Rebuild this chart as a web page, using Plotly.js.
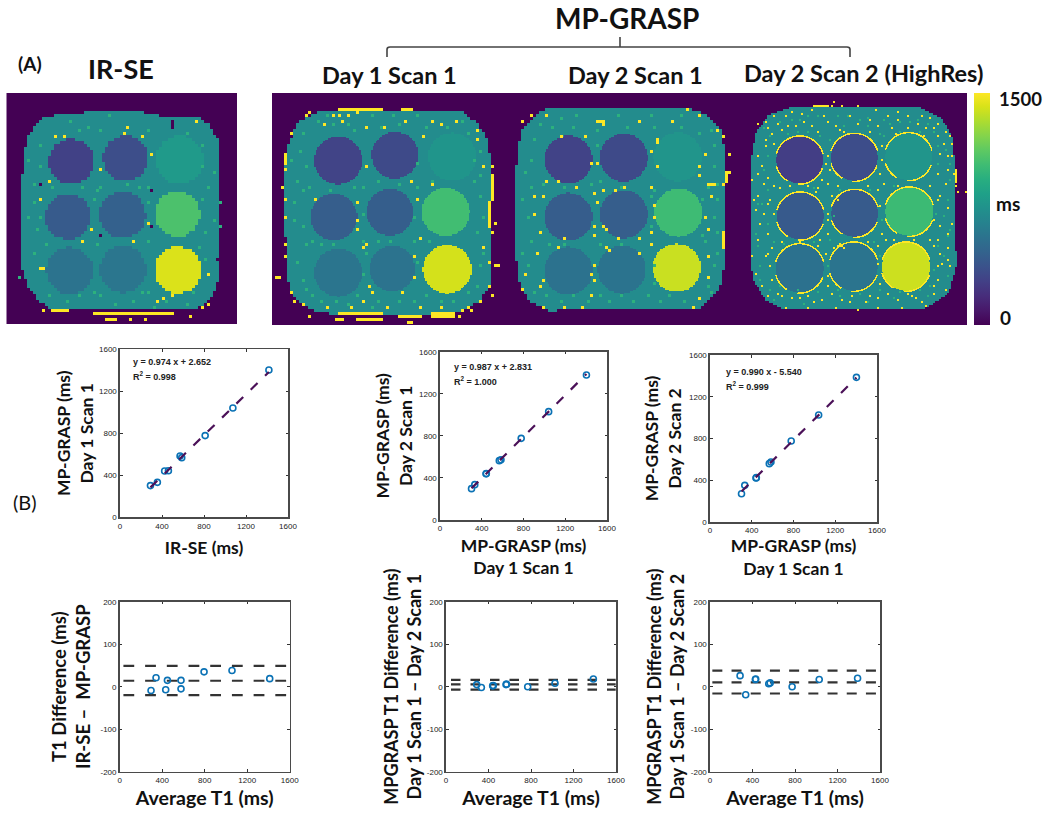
<!DOCTYPE html>
<html><head><meta charset="utf-8">
<script src="https://cdn.plot.ly/plotly-3.0.1.min.js"></script>
<style>html,body{margin:0;padding:0;background:#fff}#g{width:1050px;height:815px}</style></head>
<body><div id="g"></div>
<script>
// ---------- regression plots: values (ms)
const day1Values = [302,333,441,444,568,584,778,1041,1403];
const irseValues = [290,356,425,461,588,572,811,1075,1418];
const day2Scan1Values = [298,336,440,441,564,573,776,1030,1378];
const day2Scan2Values = [271,351,422,425,559,575,776,1025,1386];
const fit1X=[290,1418], fit1Y=[285,1384];
const fit2X=[302,1403], fit2Y=[301,1388];
const fit3X=[302,1403], fit3Y=[293,1383];
const scatterTicks=[0,400,800,1200,1600];
const diffTicks=[-200,-100,0,100,200];
// ---------- Bland-Altman values
const ba1Avg=[295,342,433,449,577,577,794,1057,1412], ba1Diff=[-9,21,-7,15,15,-5,35,38,19];
const ba2Avg=[289,333,439,445,565,570,769,1026,1387], ba2Diff=[5,-2,2,3,5,6,0,8,18];
const ba3Avg=[283,336,427,430,553,566,773,1028,1389], ba3Diff=[26,-19,17,18,7,9,0,17,20];
const ba1Limits=[49,14,-20], ba2Limits=[16,5.5,-7], ba3Limits=[38,10,-16];
const ba1Span=[35,1572], ba2Span=[47,1597], ba3Span=[22,1562];
// ---------- T1 maps: vial T1 values (ms)
const t1Irse=[290,356,811,425,461,1075,572,588,1418];
const t1Day1=[302,333,778,441,444,1041,584,568,1403];
const t1Day2a=[298,336,776,440,441,1030,564,573,1378];
const t1Day2b=[271,351,776,422,425,1025,559,575,1386];
const backgroundT1=720, speckleHigh=1500, speckleMid=960;
// vial centres + radius, phantom outlines and artefact positions, in image units
const vialsIrse=[[215,485,68],[378,475,68],[540,480,72],[205,650,68],[368,645,70],[533,642,68],[210,812,70],[370,808,70],[535,810,70]];
const vialsDay1=[[1013,480,72],[1183,465,70],[1355,470,72],[1000,650,70],[1168,636,70],[1335,635,72],[1013,817,72],[1175,805,68],[1340,807,73]];
const vialsDay2a=[[1705,478,72],[1871,472,72],[2033,470,73],[1705,650,72],[1871,642,72],[2035,637,72],[1705,812,72],[1865,808,72],[2030,803,72]];
const vialsDay2b=[[2398,480,70],[2562,472,70],[2725,470,70],[2400,648,70],[2563,640,70],[2727,635,72],[2398,805,72],[2560,800,72],[2717,800,72]];
const outlineIrse=[[165,345],[280,335],[430,335],[440,345],[600,350],[630,375],[655,420],[660,480],[662,800],[650,870],[620,910],[580,930],[160,930],[120,905],[85,860],[65,800],[65,560],[72,480],[80,420],[110,370],[130,355]];
const outlineDay1=[[970,330],[1380,330],[1430,370],[1465,420],[1470,490],[1475,720],[1470,850],[1440,900],[1400,930],[1340,945],[1010,945],[930,930],[880,890],[860,830],[855,700],[855,500],[865,430],[890,370],[930,345]];
const outlineDay2a=[[1640,322],[2055,322],[2120,345],[2160,385],[2172,440],[2175,780],[2160,860],[2100,925],[1640,932],[1590,905],[1560,860],[1548,780],[1548,500],[1560,400],[1590,360]];
const outlineDay2b=[[2375,320],[2755,320],[2825,355],[2860,420],[2868,800],[2845,880],[2775,925],[2355,930],[2295,900],[2260,840],[2250,780],[2250,500],[2265,400],[2305,345]];
const hotIrse=[[165,410],[190,413],[370,398],[430,405],[380,383],[453,462],[145,540],[300,508],[120,600],[275,685],[252,722],[400,722],[450,670],[122,808],[133,808],[515,888],[490,895],[475,902],[622,825],[590,368],[625,910],[610,918],[130,928],[350,957],[390,957],[437,957],[570,947]];
const midIrse=[[215,365],[270,380],[240,395],[300,390],[450,390],[560,400],[610,440],[120,500],[100,550],[450,560],[630,560],[640,660],[110,690],[100,760],[250,560],[300,560],[450,720],[620,700],[290,730],[430,880],[300,890],[150,890],[620,780],[90,650],[60,830],[610,500],[280,880],[200,905],[400,905],[500,905],[580,880],[120,440],[420,560],[330,345],[665,605],[665,680],[160,560],[380,555],[290,570],[450,610],[280,600],[120,650],[450,880],[610,600],[600,740],[640,520],[90,480],[105,610],[140,730],[240,890],[350,915],[460,925],[560,915]];
const darkIrse=[[515,360],[520,370],[520,380],[480,348],[122,553],[453,568],[305,708],[455,675],[650,775]];
const barsIrse=[[160,932,200,932],[280,940,515,940],[320,957,335,957]];
const hotDay1=[[930,340],[915,350],[870,400],[855,470],[855,510],[850,560],[852,600],[858,650],[855,730],[855,770],[830,830],[840,830],[870,880],[885,905],[905,915],[925,945],[1015,350],[1045,345],[1070,340],[1100,385],[1025,365],[975,370],[1155,380],[1215,365],[1295,360],[1320,370],[1365,360],[1265,405],[1230,540],[1295,555],[1100,495],[1075,605],[1075,660],[1075,690],[1085,740],[1095,735],[1260,715],[1255,600],[1245,770],[1245,830],[1105,858],[1120,875],[1205,875],[945,595],[1450,495],[1478,495],[1483,670],[1478,700],[1445,740],[1470,790],[1485,800],[1497,800],[1465,855],[1440,905],[1478,885],[1535,545],[1400,925],[1415,935],[1375,945],[1385,935],[1000,345],[1090,900],[980,920],[1050,925],[1160,925],[1260,925],[1320,925],[1430,415],[1430,395]];
const midDay1=[[985,350],[1040,375],[1120,350],[1180,345],[1250,345],[1340,385],[1400,400],[1440,450],[905,400],[900,450],[920,500],[890,540],[910,570],[880,610],[905,680],[920,730],[890,790],[920,870],[960,900],[1010,900],[1070,890],[1130,900],[1200,900],[1280,890],[1360,900],[1430,860],[1440,800],[1430,700],[1450,650],[1440,590],[1420,540],[1250,490],[1090,560],[1130,545],[1200,550],[1250,560],[1300,540],[1090,720],[1130,720],[1170,725],[1240,725],[1290,720],[1000,735],[960,735],[940,720],[1100,760],[1090,820],[1250,790],[950,360],[1000,375],[1060,395],[1140,385],[1200,375],[1280,385],[1390,360],[1420,480],[1440,530],[875,480],[885,660],[905,840],[940,890],[1040,915],[1120,925],[1240,905],[1320,900],[1400,880],[1450,760],[1240,650],[1085,640],[930,560],[990,570],[1060,560]];
const barsDay1=[[1020,327,1140,327],[1210,327,1230,327],[1475,530,1475,600],[1470,610,1470,680],[855,465,855,490],[1020,940,1140,940],[1200,948,1260,948],[1295,952,1355,952],[1005,955,1030,955],[1075,955,1140,955],[1220,965,1235,965],[1300,940,1355,940]];
const hotDay2a=[[1595,345],[1565,365],[1635,345],[1790,360],[1810,370],[1920,365],[2015,365],[2065,330],[2095,345],[2155,395],[2165,410],[2185,465],[2175,520],[2180,540],[2165,555],[2135,555],[1775,490],[1795,490],[1755,405],[1685,410],[1670,548],[1640,548],[1950,450],[1970,430],[1975,420],[2100,500],[2095,530],[2115,460],[1955,560],[1875,565],[1845,570],[1805,575],[1785,580],[1790,610],[1785,675],[1805,680],[1815,690],[1855,715],[1915,715],[1950,700],[1960,620],[1960,650],[1920,760],[1955,730],[1780,710],[1695,715],[1675,740],[1815,740],[1825,750],[1770,820],[1785,800],[1780,840],[1775,885],[1620,860],[1625,840],[1575,825],[2125,770],[2170,720],[2165,740],[2115,650],[2095,895],[1745,920],[1695,925],[1625,925],[1570,870],[2125,830],[2135,590],[1725,565],[1605,590],[1605,640],[1625,590],[1620,700],[1615,760],[1970,500],[2125,690],[2185,515],[2075,925]];
const midDay2a=[[1620,370],[1680,355],[1730,345],[1850,345],[1950,345],[2040,350],[2130,395],[2140,440],[2145,500],[2150,600],[2145,650],[2150,700],[2140,800],[2120,860],[2050,900],[1980,905],[1900,900],[1830,905],[1760,900],[1680,900],[1600,880],[1580,800],[1590,720],[1580,650],[1590,560],[1590,480],[1600,420],[1790,440],[1800,540],[1780,580],[1860,560],[1960,570],[1800,730],[1860,730],[1950,735],[1690,730],[1650,730],[1960,800],[1960,850],[2110,600],[2110,710],[1660,385],[1720,380],[1790,395],[1880,385],[1960,385],[2040,385],[2100,400],[2125,560],[2150,550],[2155,760],[2130,880],[2010,885],[1940,885],[1860,885],[1800,885],[1720,885],[1640,890],[1570,760],[1570,600],[1575,520],[1630,555],[1690,560],[1770,555],[1950,590],[1950,680],[2115,720]];
const barsDay2a=[[2175,515,2175,540],[2120,552,2145,552],[2170,700,2170,740],[1790,365,1810,365]];
const hotDay2b=[[2275,370],[2295,365],[2320,350],[2355,345],[2375,335],[2405,340],[2435,330],[2460,320],[2475,318],[2495,318],[2525,318],[2500,305],[2575,320],[2625,330],[2665,345],[2695,335],[2725,345],[2765,345],[2790,355],[2815,370],[2835,395],[2850,410],[2855,430],[2295,420],[2315,400],[2345,390],[2385,380],[2435,375],[2485,365],[2505,375],[2520,390],[2575,370],[2635,380],[2675,385],[2725,385],[2775,385],[2810,410],[2830,430],[2840,465],[2855,465],[2275,470],[2245,545],[2255,540],[2295,440],[2285,500],[2300,535],[2310,600],[2275,590],[2265,630],[2245,680],[2290,640],[2305,700],[2275,720],[2255,770],[2295,770],[2310,800],[2265,820],[2285,860],[2315,840],[2300,890],[2820,460],[2815,520],[2840,510],[2860,520],[2865,560],[2875,575],[2895,575],[2820,590],[2840,625],[2855,670],[2820,680],[2810,720],[2845,745],[2825,790],[2850,800],[2815,840],[2835,870],[2800,880],[2345,885],[2375,895],[2425,885],[2465,900],[2495,880],[2525,900],[2555,890],[2595,905],[2635,895],[2665,880],[2695,900],[2735,890],[2765,905],[2355,925],[2425,925],[2505,925],[2575,930],[2635,925],[2705,925],[2775,920],[2480,470],[2475,490],[2487,510],[2480,550],[2455,565],[2465,540],[2510,560],[2495,590],[2485,640],[2480,660],[2485,700],[2460,720],[2455,735],[2510,735],[2520,730],[2500,745],[2475,760],[2480,830],[2480,860],[2640,520],[2650,550],[2635,570],[2640,620],[2645,700],[2655,720],[2635,740],[2635,790],[2640,850],[2645,480],[2645,440],[2330,370],[2410,365],[2470,350],[2550,350],[2610,360],[2690,360],[2750,370],[2800,385],[2300,385],[2360,375],[2455,395],[2530,395],[2610,395],[2685,400],[2770,405],[2320,555],[2340,565],[2370,560],[2420,560],[2290,550],[2300,610],[2320,640],[2300,760],[2315,745],[2345,725],[2400,725],[2445,575],[2510,600],[2600,560],[2690,555],[2790,555],[2810,600],[2800,660],[2800,740],[2820,760],[2790,720],[2740,720],[2680,720],[2600,725],[2560,725],[2330,880],[2400,895],[2440,905],[2550,905],[2610,885],[2720,880],[2745,895],[2800,860],[2810,800],[2320,430],[2270,520],[2260,600],[2280,670],[2835,550],[2840,700],[2845,780]];
const midDay2b=[[2290,385],[2340,365],[2400,360],[2455,345],[2545,345],[2600,355],[2650,360],[2700,365],[2750,360],[2800,395],[2835,450],[2850,490],[2835,550],[2845,600],[2830,650],[2840,710],[2830,770],[2840,830],[2790,860],[2760,870],[2700,875],[2640,870],[2580,880],[2510,870],[2450,875],[2390,870],[2340,860],[2310,870],[2280,800],[2270,740],[2300,670],[2270,610],[2300,570],[2270,520],[2300,470],[2320,430],[2360,400],[2420,395],[2490,420],[2640,400],[2700,395],[2500,650],[2645,660],[2520,570],[2440,565],[2610,570],[2680,560],[2440,725],[2490,720],[2620,725],[2350,730],[2320,725],[2480,800],[2640,770],[2375,360],[2425,350],[2515,345],[2580,360],[2670,370],[2730,365],[2780,370],[2810,440],[2815,490],[2850,540],[2805,640],[2850,690],[2815,740],[2800,810],[2780,890],[2680,895],[2600,905],[2520,885],[2410,910],[2320,900],[2280,840],[2265,700],[2285,610],[2290,510],[2310,410],[2390,395],[2460,410],[2530,380],[2600,380],[2650,410],[2760,395]];
const barsDay2b=[[2440,318,2480,318],[2520,735,2530,745],[2865,510,2865,545]];
const rimArcsDay2b=[[195,345],[20,95],[120,165]];
// ---------- text
const columnTitles=["IR-SE","Day 1 Scan 1","Day 2 Scan 1","Day 2 Scan 2 (HighRes)"];
const groupTitle="MP-GRASP";
const panelLabels=["(A)","(B)"];
const colorbarLabels=["1500","ms","0"];
const eqs=[["y = 0.974 x + 2.652","R<sup>2</sup> = 0.998"],["y = 0.987 x + 2.831","R<sup>2</sup> = 1.000"],["y = 0.990 x - 5.540","R<sup>2</sup> = 0.999"]];

const W=1050,H=815, px=v=>v/W, py=v=>1-v/H;
const FONT='Lato, "Open Sans", sans-serif', TICK='"Liberation Sans", Arial, sans-serif';
const inPoly=(x,y,p)=>{let c=false;for(let i=0,j=p.length-1;i<p.length;j=i++){
  if((p[i][1]>y)!==(p[j][1]>y)&&x<(p[j][0]-p[i][0])*(y-p[i][1])/(p[j][1]-p[i][1])+p[i][0])c=!c;}return c;};

function raster(o){
  // outline and speckles sit on the coarse acquisition grid, vial edges on the finer one
  const f=o.fine, k=Math.round(o.cell/f);
  const nx=Math.round((o.x1-o.x0)/f), ny=Math.round((975-279)/f), z=[];
  const coarse=(v,start)=>start+(Math.floor((v-start)/o.cell)+.5)*o.cell;
  for(let r=0;r<ny;r++){const row=[],y=279+(r+.5)*f;
    for(let c=0;c<nx;c++){const x=o.x0+(c+.5)*f;
      let v=inPoly(coarse(x,o.x0),coarse(y,279),o.outline)?backgroundT1:0;
      o.vials.forEach((t,i)=>{const d=Math.hypot(x-t[0],y-t[1]);
        if(d<=t[2])v=o.t1[i];
        else if(o.arcs&&d<t[2]+o.rim){let a=Math.atan2(y-t[1],x-t[0])*180/Math.PI;if(a<0)a+=360;
          if(o.arcs.some(s=>a>=s[0]&&a<=s[1]))v=speckleHigh;}
      });
      row.push(v);}
    z.push(row);}
  const put=(x,y,v)=>{const c=Math.floor((x-o.x0)/o.cell)*k,r=Math.floor((y-279)/o.cell)*k;
    for(let a=0;a<k;a++)for(let b=0;b<k;b++)if(z[r+a]&&c+b>=0&&c+b<nx)z[r+a][c+b]=v;};
  (o.mid||[]).forEach(s=>put(s[0],s[1],speckleMid));
  (o.dark||[]).forEach(s=>put(s[0],s[1],0));
  o.hot.forEach(s=>put(s[0],s[1],speckleHigh));
  (o.bars||[]).forEach(b=>{const n=Math.ceil(Math.max(Math.abs(b[2]-b[0]),Math.abs(b[3]-b[1]))/o.cell);
    for(let i=0;i<=n;i++)put(b[0]+(b[2]-b[0])*i/Math.max(n,1),b[1]+(b[3]-b[1])*i/Math.max(n,1),speckleHigh);});
  return {type:'heatmap',z,x0:o.x0+f/2,dx:f,y0:279+f/2,dy:f,xaxis:o.ax[0],yaxis:o.ax[1],
    coloraxis:'coloraxis',hoverinfo:'skip',zsmooth:false};
}
const traces=[
 raster({x0:19,x1:711,cell:9,fine:9,outline:outlineIrse,vials:vialsIrse,t1:t1Irse,hot:hotIrse,mid:midIrse,dark:darkIrse,bars:barsIrse,ax:['x','y']}),
 raster({x0:815,x1:1535,cell:9,fine:4.5,outline:outlineDay1,vials:vialsDay1,t1:t1Day1,hot:hotDay1,mid:midDay1,bars:barsDay1,ax:['x2','y2']}),
 raster({x0:1535,x1:2246,cell:9,fine:4.5,outline:outlineDay2a,vials:vialsDay2a,t1:t1Day2a,hot:hotDay2a,mid:midDay2a,bars:barsDay2a,ax:['x2','y2']}),
 raster({x0:2246,x1:2902,cell:6,fine:3,rim:4.5,outline:outlineDay2b,vials:vialsDay2b,t1:t1Day2b,hot:hotDay2b,mid:midDay2b,bars:barsDay2b,arcs:rimArcsDay2b,ax:['x2','y2']})
];
const layout={width:W,height:H,margin:{l:0,r:0,t:0,b:0},paper_bgcolor:'#fff',plot_bgcolor:'#fff',showlegend:false,
 font:{family:FONT,color:'#111'},
 coloraxis:{colorscale:'Viridis',cmin:0,cmax:1500,colorbar:{x:px(974),xanchor:'left',y:py(93),yanchor:'top',lenmode:'pixels',len:232,thicknessmode:'pixels',thickness:16,outlinewidth:0,tickvals:[],xpad:0,ypad:0}},
 annotations:[],shapes:[]};
const hiddenAxis=(range,anchor)=>({range,showticklabels:false,ticks:'',showgrid:false,zeroline:false,anchor,showline:false});
layout.xaxis={...hiddenAxis([19,711],'y'),domain:[px(6.3),px(237)]};
layout.yaxis={...hiddenAxis([975,279],'x'),domain:[py(325),py(93)]};
layout.xaxis2={...hiddenAxis([815,2902],'y2'),domain:[px(272),px(967)]};
layout.yaxis2={...hiddenAxis([975,279],'x2'),domain:[py(325),py(93)]};
layout.shapes.push({type:'rect',xref:'x2',yref:'y2',x0:815,x1:2902,y0:279,y1:975,fillcolor:'#440154',line:{width:0},layer:'below'});

function frameAxis(dom,range,tickvals,titleText,standoff,anchor,titleSize){
 return {domain:dom,range,tickvals,ticktext:tickvals.map(String),ticks:'inside',ticklen:2.5,tickwidth:1,tickcolor:'#333',mirror:'ticks',
  showline:true,linecolor:'#4a4a4a',linewidth:1.6,showgrid:false,zeroline:false,anchor,
  tickfont:{family:TICK,size:8,color:'#222'},automargin:false,
  title:{text:titleText,standoff,font:{family:FONT,size:titleSize,color:'#111',weight:700}}};
}
const plots=[
 {box:[120,288,349.3,517.3],x:irseValues,y:day1Values,xT:"IR-SE (ms)",yT:"MP-GRASP (ms)<br>Day 1 Scan 1",fx:fit1X,fy:fit1Y,eq:eqs[0],eqX:105,eqY:[1482,1349],xs:12,ys:0.5,xz:17.5,yz:17.5},
 {box:[440,607,351.7,520],x:day1Values,y:day2Scan1Values,xT:"MP-GRASP (ms)<br>Day 1 Scan 1",yT:"MP-GRASP (ms)<br>Day 2 Scan 1",fx:fit2X,fy:fit2Y,eq:eqs[1],eqX:118,eqY:[1454,1321],xs:7,ys:2,xz:17.5,yz:17.5},
 {box:[710,877,355,522],x:day1Values,y:day2Scan2Values,xT:"MP-GRASP (ms)<br>Day 1 Scan 1",yT:"MP-GRASP (ms)<br>Day 2 Scan 2",fx:fit3X,fy:fit3Y,eq:eqs[2],eqX:131,eqY:[1434,1303],xs:5,ys:3,xz:17.5,yz:17.5},
 {box:[119.7,289.7,601.7,771.7],x:ba1Avg,y:ba1Diff,xT:"Average T1 (ms)",yT:"T1 Difference (ms)<br>IR-SE \u2013  MP-GRASP",lim:ba1Limits,span:ba1Span,dash:'10.8px,10.9px',xs:7,ys:5,xz:19.5,yz:18.5},
 {box:[446,616,601.7,771.7],x:ba2Avg,y:ba2Diff,xT:"Average T1 (ms)",yT:"MPGRASP T1 Difference (ms)<br>Day 1 Scan 1 \u2013 Day 2 Scan 1",lim:ba2Limits,span:ba2Span,dash:'9.5px,10px',xs:7,ys:0,xz:19.5,yz:18},
 {box:[710,880,601.7,771.7],x:ba3Avg,y:ba3Diff,xT:"Average T1 (ms)",yT:"MPGRASP T1 Difference (ms)<br>Day 1 Scan 1 \u2013 Day 2 Scan 2",lim:ba3Limits,span:ba3Span,dash:'10px,9.2px',xs:7,ys:1,xz:19.5,yz:18}
];
plots.forEach((p,i)=>{
 const n=i+3,xa='x'+n,ya='y'+n,isBA=!!p.lim;
 const [l,r,t,b]=p.box;
 layout['xaxis'+n]=frameAxis([px(l),px(r)],[0,1600],scatterTicks,p.xT,p.xs,ya,p.xz);
 layout['yaxis'+n]=frameAxis([py(b),py(t)],isBA?[-200,200]:[0,1600],isBA?diffTicks:scatterTicks,p.yT,p.ys,xa,p.yz);
 if(isBA){p.lim.forEach(v=>traces.push({type:'scatter',mode:'lines',x:p.span,y:[v,v],xaxis:xa,yaxis:ya,line:{color:'#333',width:2.2,dash:p.dash},hoverinfo:'skip'}));}
 traces.push({type:'scatter',mode:'markers',x:p.x,y:p.y,xaxis:xa,yaxis:ya,marker:{symbol:'circle-open',size:6,color:'#0b72b5',line:{width:1.6,color:'#0b72b5'}}});
 if(!isBA){
  traces.push({type:'scatter',mode:'lines',x:p.fx,y:p.fy,xaxis:xa,yaxis:ya,line:{color:'#4b1158',width:2.2,dash:'9.5px,10.5px'},hoverinfo:'skip'});
  p.eq.forEach((e,k)=>layout.annotations.push({text:e,xref:xa,yref:ya,x:p.eqX,y:p.eqY[k],xanchor:'left',yanchor:'middle',showarrow:false,font:{family:TICK,size:9,color:'#222',weight:700}}));
 }
});
const note=(text,cx,cy,size,weight,anchor)=>layout.annotations.push({text,xref:'paper',yref:'paper',x:px(cx),y:py(cy),xanchor:anchor||'center',yanchor:'middle',showarrow:false,font:{family:FONT,size,color:'#111',weight}});
note(groupTitle,627,18,28,700);
note(columnTitles[0],121,69,27,700);
note(columnTitles[1],389,75,23.5,700);
note(columnTitles[2],635,75,23.5,700);
note(columnTitles[3],863,73,23.5,700);
note(panelLabels[0],30,63,19,700);
note(panelLabels[1],25,502,20,400);
note(colorbarLabels[0],997,99,18.5,700,'left');
note(colorbarLabels[1],994,203,19,700,'left');
note(colorbarLabels[2],998,317,19,700,'left');
layout.shapes.push({type:'path',xref:'paper',yref:'paper',line:{color:'#444',width:1.6},
 path:`M ${px(387)} ${py(57)} L ${px(387)} ${py(49.5)} Q ${px(387)} ${py(47)} ${px(390)} ${py(47)} L ${px(847)} ${py(47)} Q ${px(850)} ${py(47)} ${px(850)} ${py(49.5)} L ${px(850)} ${py(57)}`});
layout.shapes.push({type:'line',xref:'paper',yref:'paper',x0:px(620),x1:px(620),y0:py(37),y1:py(47),line:{color:'#444',width:1.6}});
Plotly.newPlot('g',traces,layout,{displayModeBar:false,staticPlot:true});
</script></body></html>
